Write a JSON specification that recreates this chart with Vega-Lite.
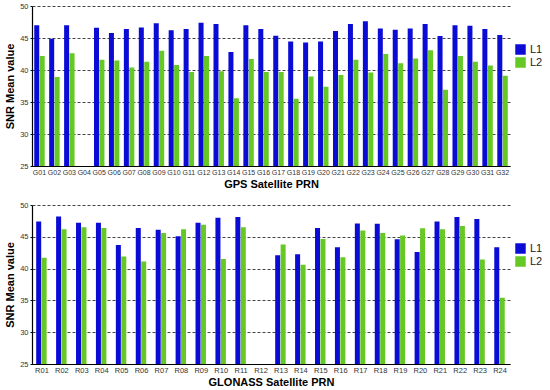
{
  "$schema": "https://vega.github.io/schema/vega-lite/v6.json",
  "padding": {"left": 4, "top": 2, "right": 2, "bottom": 0},
  "background": "white",
  "spacing": 12,
  "config": {
    "font": "Liberation Sans",
    "view": {"stroke": null},
    "axis": {"labelFontSize": 7.5, "labelColor": "#333", "titleFontSize": 11, "titleFontWeight": "bold", "titleColor": "#000", "domainColor": "#000", "domainWidth": 1.2},
    "axisY": {"grid": true, "gridColor": "#444", "gridWidth": 1, "gridDash": [3, 2], "gridOpacity": 1},
    "legend": {"labelFontSize": 11, "labelColor": "#222", "symbolType": "square", "symbolSize": 110, "symbolStrokeWidth": 0, "rowPadding": 1}
  },
  "resolve": {"legend": {"color": "independent"}},
  "datasets": {
    "gps": [
      {"prn": "G01", "band": "L1", "snr": 47.0}, {"prn": "G01", "band": "L2", "snr": 42.2},
      {"prn": "G02", "band": "L1", "snr": 44.9}, {"prn": "G02", "band": "L2", "snr": 38.9},
      {"prn": "G03", "band": "L1", "snr": 47.0}, {"prn": "G03", "band": "L2", "snr": 42.6},
      {"prn": "G05", "band": "L1", "snr": 46.6}, {"prn": "G05", "band": "L2", "snr": 41.6},
      {"prn": "G06", "band": "L1", "snr": 45.8}, {"prn": "G06", "band": "L2", "snr": 41.5},
      {"prn": "G07", "band": "L1", "snr": 46.4}, {"prn": "G07", "band": "L2", "snr": 40.4},
      {"prn": "G08", "band": "L1", "snr": 46.65}, {"prn": "G08", "band": "L2", "snr": 41.3},
      {"prn": "G09", "band": "L1", "snr": 47.3}, {"prn": "G09", "band": "L2", "snr": 43.0},
      {"prn": "G10", "band": "L1", "snr": 46.2}, {"prn": "G10", "band": "L2", "snr": 40.8},
      {"prn": "G11", "band": "L1", "snr": 46.4}, {"prn": "G11", "band": "L2", "snr": 39.7},
      {"prn": "G12", "band": "L1", "snr": 47.4}, {"prn": "G12", "band": "L2", "snr": 42.2},
      {"prn": "G13", "band": "L1", "snr": 47.2}, {"prn": "G13", "band": "L2", "snr": 39.8},
      {"prn": "G14", "band": "L1", "snr": 42.8}, {"prn": "G14", "band": "L2", "snr": 35.6},
      {"prn": "G15", "band": "L1", "snr": 47.0}, {"prn": "G15", "band": "L2", "snr": 41.7},
      {"prn": "G16", "band": "L1", "snr": 46.4}, {"prn": "G16", "band": "L2", "snr": 39.7},
      {"prn": "G17", "band": "L1", "snr": 45.35}, {"prn": "G17", "band": "L2", "snr": 39.7},
      {"prn": "G18", "band": "L1", "snr": 44.45}, {"prn": "G18", "band": "L2", "snr": 35.5},
      {"prn": "G19", "band": "L1", "snr": 44.3}, {"prn": "G19", "band": "L2", "snr": 39.0},
      {"prn": "G20", "band": "L1", "snr": 44.45}, {"prn": "G20", "band": "L2", "snr": 37.4},
      {"prn": "G21", "band": "L1", "snr": 46.1}, {"prn": "G21", "band": "L2", "snr": 39.2},
      {"prn": "G22", "band": "L1", "snr": 47.2}, {"prn": "G22", "band": "L2", "snr": 41.6},
      {"prn": "G23", "band": "L1", "snr": 47.6}, {"prn": "G23", "band": "L2", "snr": 39.6},
      {"prn": "G24", "band": "L1", "snr": 46.5}, {"prn": "G24", "band": "L2", "snr": 42.5},
      {"prn": "G25", "band": "L1", "snr": 46.3}, {"prn": "G25", "band": "L2", "snr": 41.05},
      {"prn": "G26", "band": "L1", "snr": 46.5}, {"prn": "G26", "band": "L2", "snr": 41.8},
      {"prn": "G27", "band": "L1", "snr": 47.2}, {"prn": "G27", "band": "L2", "snr": 43.1},
      {"prn": "G28", "band": "L1", "snr": 45.3}, {"prn": "G28", "band": "L2", "snr": 36.9},
      {"prn": "G29", "band": "L1", "snr": 47.0}, {"prn": "G29", "band": "L2", "snr": 42.2},
      {"prn": "G30", "band": "L1", "snr": 46.9}, {"prn": "G30", "band": "L2", "snr": 41.3},
      {"prn": "G31", "band": "L1", "snr": 46.4}, {"prn": "G31", "band": "L2", "snr": 40.7},
      {"prn": "G32", "band": "L1", "snr": 45.45}, {"prn": "G32", "band": "L2", "snr": 39.1}
    ],
    "glonass": [
      {"prn": "R01", "band": "L1", "snr": 47.4}, {"prn": "R01", "band": "L2", "snr": 41.7},
      {"prn": "R02", "band": "L1", "snr": 48.2}, {"prn": "R02", "band": "L2", "snr": 46.2},
      {"prn": "R03", "band": "L1", "snr": 47.2}, {"prn": "R03", "band": "L2", "snr": 46.5},
      {"prn": "R04", "band": "L1", "snr": 47.2}, {"prn": "R04", "band": "L2", "snr": 46.4},
      {"prn": "R05", "band": "L1", "snr": 43.7}, {"prn": "R05", "band": "L2", "snr": 41.9},
      {"prn": "R06", "band": "L1", "snr": 46.4}, {"prn": "R06", "band": "L2", "snr": 41.1},
      {"prn": "R07", "band": "L1", "snr": 46.1}, {"prn": "R07", "band": "L2", "snr": 45.6},
      {"prn": "R08", "band": "L1", "snr": 45.1}, {"prn": "R08", "band": "L2", "snr": 46.2},
      {"prn": "R09", "band": "L1", "snr": 47.2}, {"prn": "R09", "band": "L2", "snr": 46.9},
      {"prn": "R10", "band": "L1", "snr": 48.0}, {"prn": "R10", "band": "L2", "snr": 41.5},
      {"prn": "R11", "band": "L1", "snr": 48.1}, {"prn": "R11", "band": "L2", "snr": 46.5},
      {"prn": "R13", "band": "L1", "snr": 42.1}, {"prn": "R13", "band": "L2", "snr": 43.8},
      {"prn": "R14", "band": "L1", "snr": 42.25}, {"prn": "R14", "band": "L2", "snr": 40.6},
      {"prn": "R15", "band": "L1", "snr": 46.4}, {"prn": "R15", "band": "L2", "snr": 44.65},
      {"prn": "R16", "band": "L1", "snr": 43.35}, {"prn": "R16", "band": "L2", "snr": 41.8},
      {"prn": "R17", "band": "L1", "snr": 47.1}, {"prn": "R17", "band": "L2", "snr": 46.0},
      {"prn": "R18", "band": "L1", "snr": 47.05}, {"prn": "R18", "band": "L2", "snr": 45.6},
      {"prn": "R19", "band": "L1", "snr": 44.6}, {"prn": "R19", "band": "L2", "snr": 45.2},
      {"prn": "R20", "band": "L1", "snr": 42.6}, {"prn": "R20", "band": "L2", "snr": 46.35},
      {"prn": "R21", "band": "L1", "snr": 47.4}, {"prn": "R21", "band": "L2", "snr": 46.2},
      {"prn": "R22", "band": "L1", "snr": 48.1}, {"prn": "R22", "band": "L2", "snr": 46.7},
      {"prn": "R23", "band": "L1", "snr": 47.8}, {"prn": "R23", "band": "L2", "snr": 41.45},
      {"prn": "R24", "band": "L1", "snr": 43.35}, {"prn": "R24", "band": "L2", "snr": 35.4}
    ]
  },
  "vconcat": [
    {
      "width": 478,
      "height": 160,
      "data": {"name": "gps"},
      "mark": {"type": "bar", "clip": true},
      "encoding": {
        "x": {
          "field": "prn", "type": "nominal", "title": "GPS Satellite PRN",
          "scale": {"domain": ["G01","G02","G03","G04","G05","G06","G07","G08","G09","G10","G11","G12","G13","G14","G15","G16","G17","G18","G19","G20","G21","G22","G23","G24","G25","G26","G27","G28","G29","G30","G31","G32"], "paddingInner": 0.3, "paddingOuter": 0.15},
          "axis": {"labelAngle": 0, "ticks": false, "grid": false, "labelPadding": 2, "titlePadding": 3, "labelFontSize": 7, "labelOverlap": false}
        },
        "xOffset": {"field": "band", "type": "nominal", "scale": {"paddingInner": 0.08, "paddingOuter": 0}},
        "y": {
          "field": "snr", "type": "quantitative", "title": "SNR Mean value",
          "scale": {"domain": [25, 50], "zero": false, "nice": false},
          "axis": {"grid": true, "values": [25, 30, 35, 40, 45, 50], "tickSize": 2, "tickColor": "#000", "labelPadding": 2, "titlePadding": 4}
        },
        "color": {
          "field": "band", "type": "nominal",
          "scale": {"domain": ["L1", "L2"], "range": ["#0b0bd6", "#66c825"]},
          "legend": {"title": null, "orient": "none", "legendX": 483, "legendY": 38}
        }
      }
    },
    {
      "width": 478,
      "height": 159,
      "data": {"name": "glonass"},
      "mark": {"type": "bar", "clip": true},
      "encoding": {
        "x": {
          "field": "prn", "type": "nominal", "title": "GLONASS Satellite PRN",
          "scale": {"domain": ["R01","R02","R03","R04","R05","R06","R07","R08","R09","R10","R11","R12","R13","R14","R15","R16","R17","R18","R19","R20","R21","R22","R23","R24"], "paddingInner": 0.42, "paddingOuter": 0.21},
          "axis": {"labelAngle": 0, "ticks": false, "grid": false, "labelPadding": 2, "titlePadding": 3}
        },
        "xOffset": {"field": "band", "type": "nominal", "scale": {"paddingInner": 0.3, "paddingOuter": 0}},
        "y": {
          "field": "snr", "type": "quantitative", "title": "SNR Mean value",
          "scale": {"domain": [25, 50], "zero": false, "nice": false},
          "axis": {"grid": true, "values": [25, 30, 35, 40, 45, 50], "tickSize": 2, "tickColor": "#000", "labelPadding": 2, "titlePadding": 4}
        },
        "color": {
          "field": "band", "type": "nominal",
          "scale": {"domain": ["L1", "L2"], "range": ["#0b0bd6", "#66c825"]},
          "legend": {"title": null, "orient": "none", "legendX": 483, "legendY": 38}
        }
      }
    }
  ]
}
